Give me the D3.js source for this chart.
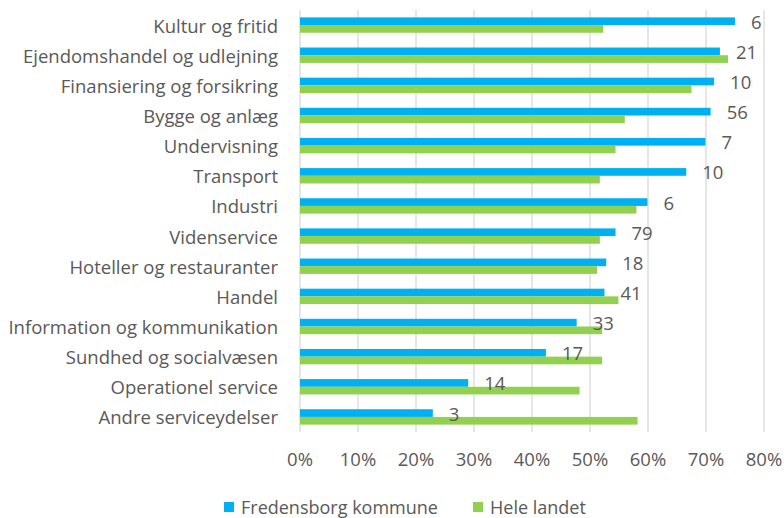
<!DOCTYPE html>
<html>
<head>
<meta charset="utf-8">
<script src="https://cdn.jsdelivr.net/npm/d3@7"></script>
<style>
  body { margin: 0; background: #fff; }
  text { font-family: 'Open Sans', sans-serif; fill: #595959; }
</style>
</head>
<body>
<div id="viz"></div>
<script>
const categories = [
  'Kultur og fritid', 'Ejendomshandel og udlejning', 'Finansiering og forsikring',
  'Bygge og anlæg', 'Undervisning', 'Transport', 'Industri', 'Videnservice',
  'Hoteller og restauranter', 'Handel', 'Information og kommunikation',
  'Sundhed og socialvæsen', 'Operationel service', 'Andre serviceydelser'
];
const fredensborg = [75.0, 72.4, 71.4, 70.8, 69.9, 66.6, 59.9, 54.4, 52.8, 52.5, 47.7, 42.4, 29.0, 22.9];
const heleLandet = [52.3, 73.8, 67.5, 56.0, 54.4, 51.7, 58.0, 51.7, 51.2, 54.9, 52.1, 52.1, 48.2, 58.2];
const counts = [6, 21, 10, 56, 7, 10, 6, 79, 18, 41, 33, 17, 14, 3];
const seriesNames = ['Fredensborg kommune', 'Hele landet'];
const colors = ['#00B0F0', '#92D050'];
const xTicks = [0, 10, 20, 30, 40, 50, 60, 70, 80];

const W = 784, H = 518;
const margin = { top: 10, right: 20, bottom: 86, left: 300 };
const width = 764 - margin.left;
const height = 432 - margin.top;
const fs = '18.5px';

const svg = d3.select('#viz').append('svg')
  .attr('width', W).attr('height', H);
const g = svg.append('g')
  .attr('transform', `translate(${margin.left},${margin.top})`);

const x = d3.scaleLinear().domain([0, 80]).range([0, width]);
const y = d3.scaleBand().domain(categories).range([0, height]).paddingInner(0.49).paddingOuter(0.245);
const sub = d3.scaleBand().domain([0, 1]).range([0, y.bandwidth()]);

// gridlines
g.selectAll('line.grid')
  .data(xTicks)
  .join('line')
  .attr('class', 'grid')
  .attr('x1', d => x(d)).attr('x2', d => x(d))
  .attr('y1', 0).attr('y2', height)
  .attr('stroke', '#D9D9D9')
  .attr('stroke-width', 1.3);

// x tick labels
g.selectAll('text.xtick')
  .data(xTicks)
  .join('text')
  .attr('class', 'xtick')
  .attr('x', d => x(d))
  .attr('y', height + 34)
  .attr('text-anchor', 'middle')
  .style('font-size', fs)
  .text(d => d + '%');

// category labels
g.selectAll('text.cat')
  .data(categories)
  .join('text')
  .attr('class', 'cat')
  .attr('x', -22)
  .attr('y', d => y(d) + y.bandwidth() / 2)
  .attr('text-anchor', 'end')
  .attr('dominant-baseline', 'central')
  .style('font-size', fs)
  .text(d => d);

// bars
[fredensborg, heleLandet].forEach((vals, s) => {
  g.selectAll(`rect.s${s}`)
    .data(categories)
    .join('rect')
    .attr('class', `s${s}`)
    .attr('x', x(0))
    .attr('y', d => y(d) + sub(s))
    .attr('width', (d, i) => x(vals[i]) - x(0))
    .attr('height', sub.bandwidth())
    .attr('fill', colors[s]);
});

// data labels
g.selectAll('text.val')
  .data(categories)
  .join('text')
  .attr('class', 'val')
  .attr('x', (d, i) => x(fredensborg[i]) + 16)
  .attr('y', d => y(d) + sub(0) + sub.bandwidth() / 2)
  .attr('dominant-baseline', 'central')
  .style('font-size', fs)
  .text((d, i) => counts[i]);

// legend
const legendPos = [224, 473];
const legend = svg.append('g').attr('transform', 'translate(0,502)');
seriesNames.forEach((name, i) => {
  legend.append('rect')
    .attr('x', legendPos[i]).attr('y', 0)
    .attr('width', 10).attr('height', 10)
    .attr('fill', colors[i]);
  legend.append('text')
    .attr('x', legendPos[i] + 17)
    .attr('y', 5)
    .attr('dominant-baseline', 'central')
    .style('font-size', '18px')
    .text(name);
});
</script>
</body>
</html>
